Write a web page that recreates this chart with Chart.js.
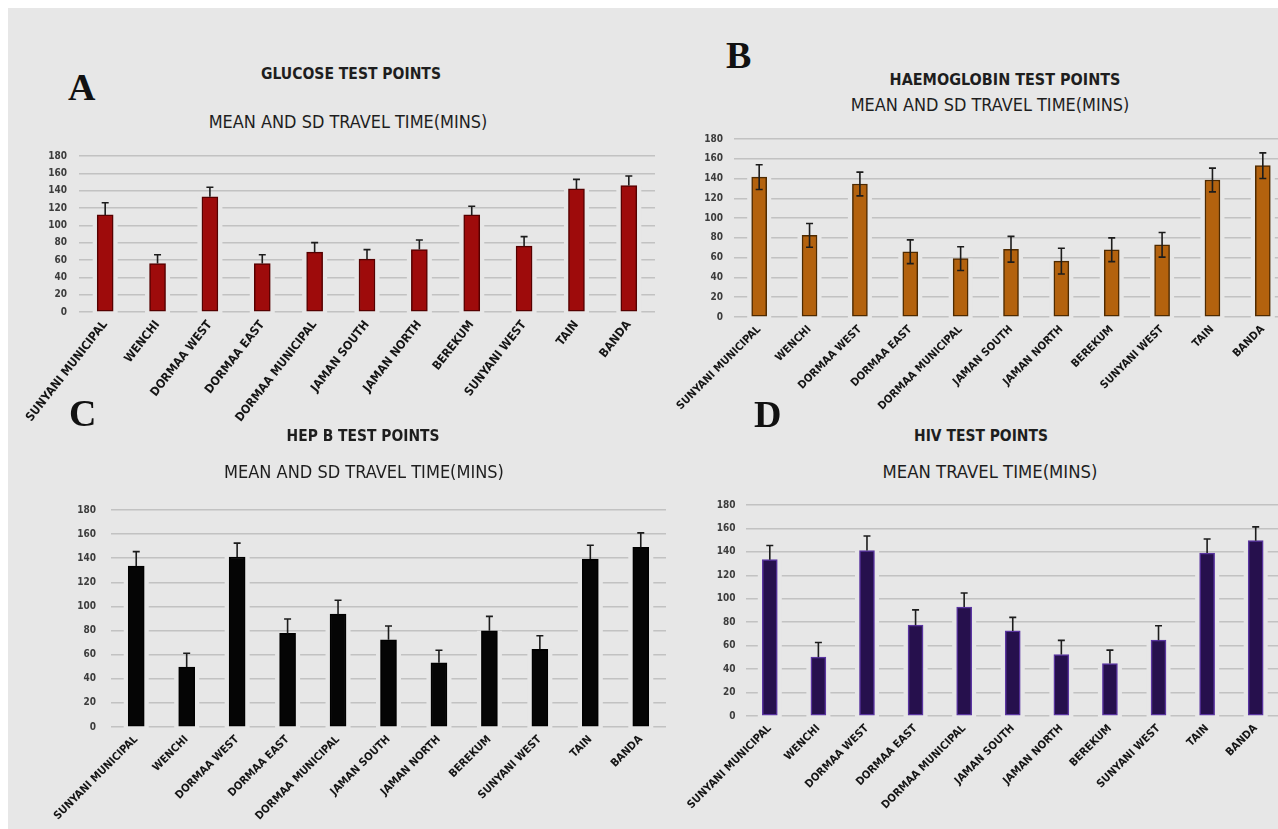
<!DOCTYPE html>
<html>
<head>
<meta charset="utf-8">
<script src="https://cdn.jsdelivr.net/npm/chart.js@4.4.1/dist/chart.umd.min.js"></script>
<style>
  body { margin: 0; width: 1278px; height: 829px; overflow: hidden; background: #fff; position: relative; }
  #bg { position: absolute; left: 8px; top: 8px; right: 0; bottom: 0; background: #e7e7e7; }
  canvas { position: absolute; }
  .txt { position: absolute; white-space: nowrap; line-height: 1; color: #1e1e1e;
         transform: translate(-50%, -50%);
         font-family: 'Liberation Sans Narrow', 'DejaVu Sans Condensed', 'Roboto Condensed', sans-serif; }
  .letter { position: absolute; line-height: 1; font-size: 38px; font-weight: bold; color: #111;
            font-family: 'Liberation Serif', 'DejaVu Serif', serif; }
</style>
</head>
<body>
<div id="bg"></div>
<script>
// districts on the x axis (same order in all four panels)
const districts = ['SUNYANI MUNICIPAL', 'WENCHI', 'DORMAA WEST', 'DORMAA EAST', 'DORMAA MUNICIPAL',
  'JAMAN SOUTH', 'JAMAN NORTH', 'BEREKUM', 'SUNYANI WEST', 'TAIN', 'BANDA'];

// travel time in minutes
const glucoseMean = [112, 56, 133, 56, 69, 61, 72, 112, 76, 142, 146];
const glucoseSd   = [14, 10, 11, 10, 11, 11, 11, 10, 11, 11, 11];

const hbMean = [141.5, 82.5, 134.5, 66, 59, 68.5, 56.5, 68, 73, 138.5, 153];
const hbSd   = [12.5, 12, 12, 12, 12, 13, 13, 12, 12.5, 12, 13];

const hepbMean = [133.5, 49.7, 141, 77.6, 93.6, 72.3, 53.2, 79.8, 64.5, 139.3, 149];
const hepbSd   = [12, 11.5, 11.5, 12, 11.5, 11.5, 10.5, 12, 11.2, 11.5, 12];

const hivMean = [133.4, 50.2, 141.2, 77.5, 92.9, 72.6, 52.5, 44.7, 64.7, 139, 149.6];
const hivSd   = [12, 12.5, 12.3, 13, 12, 11.5, 12, 11.5, 12.3, 12, 11.7];

const yMin = 0, yMax = 180, yStep = 20;

const labelFont = "'Liberation Sans Narrow', 'DejaVu Sans Condensed', 'Roboto Condensed', sans-serif";
const bgColor = '#e7e7e7';

// error bars drawn from the mean and sd arrays through the y scale
const errorBars = {
  id: 'errorBars',
  afterDatasetsDraw(chart, args, opts) {
    const ctx = chart.ctx;
    const y = chart.scales.y;
    const meta = chart.getDatasetMeta(0);
    ctx.save();
    ctx.strokeStyle = opts.color;
    ctx.lineWidth = 1.6;
    meta.data.forEach(function(bar, i) {
      const m = opts.mean[i], s = opts.sd[i];
      const top = y.getPixelForValue(m + s);
      const bot = opts.lower ? y.getPixelForValue(m - s) : y.getPixelForValue(m);
      ctx.beginPath();
      ctx.moveTo(bar.x, top); ctx.lineTo(bar.x, bot);
      ctx.moveTo(bar.x - 3.5, top); ctx.lineTo(bar.x + 3.5, top);
      if (opts.lower) { ctx.moveTo(bar.x - 3.5, bot); ctx.lineTo(bar.x + 3.5, bot); }
      ctx.stroke();
    });
    ctx.restore();
  }
};

// little breaks in the gridlines beside each bar
const gridGaps = {
  id: 'gridGaps',
  beforeDatasetsDraw(chart) {
    const ctx = chart.ctx;
    const meta = chart.getDatasetMeta(0);
    ctx.save();
    ctx.fillStyle = bgColor;
    meta.data.forEach(function(bar) {
      const w = bar.width + 9;
      ctx.fillRect(bar.x - w / 2, bar.y, w, bar.base - bar.y + 2);
    });
    ctx.restore();
  }
};

const panels = [
  { letter: 'A', lx: 68, lb: 100,
    title: 'GLUCOSE TEST POINTS', tx: 351, ty: 75, tw: 180,
    sub: 'MEAN AND SD TRAVEL TIME(MINS)', sx: 348, sy: 122, sw: 279,
    mean: glucoseMean, sd: glucoseSd, lower: false,
    fill: '#9e0b0b', border: '#560000', bar: 16, rot: 52, xFont: 12,
    cv: { x: 0, y: 138, w: 662, h: 312 }, plot: { l: 79, r: 655, t: 150, b: 312 }, yPad: 12 },
  { letter: 'B', lx: 726, lb: 68,
    title: 'HAEMOGLOBIN TEST POINTS', tx: 1005, ty: 80, tw: 231,
    sub: 'MEAN AND SD TRAVEL TIME(MINS)', sx: 990, sy: 105, sw: 279,
    mean: hbMean, sd: hbSd, lower: true,
    fill: '#b3620e', border: '#4e2a00', bar: 15, rot: 45, xFont: 11,
    cv: { x: 660, y: 122, w: 635, h: 300 }, plot: { l: 734, r: 1288, t: 134, b: 317 }, yPad: 11 },
  { letter: 'C', lx: 69, lb: 426,
    title: 'HEP B TEST POINTS', tx: 363, ty: 437, tw: 153,
    sub: 'MEAN AND SD TRAVEL TIME(MINS)', sx: 364, sy: 472, sw: 280,
    mean: hepbMean, sd: hepbSd, lower: false,
    fill: '#050505', border: '#000000', bar: 16, rot: 45, xFont: 11,
    cv: { x: 20, y: 489, w: 653, h: 340 }, plot: { l: 111, r: 666, t: 501.5, b: 727 }, yPad: 15 },
  { letter: 'D', lx: 754, lb: 427,
    title: 'HIV TEST POINTS', tx: 981, ty: 437, tw: 134,
    sub: 'MEAN TRAVEL TIME(MINS)', sx: 990, sy: 472, sw: 215,
    mean: hivMean, sd: hivSd, lower: false,
    fill: '#26104d', border: '#5a35a0', bar: 15, rot: 45, xFont: 11,
    cv: { x: 672, y: 489, w: 615, h: 340 }, plot: { l: 745.5, r: 1280, t: 501, b: 716 }, yPad: 10 }
];

function placeText(text, cx, cy, width, bold) {
  const el = document.createElement('div');
  el.className = 'txt';
  el.textContent = text;
  el.style.fontWeight = bold ? 'bold' : 'normal';
  el.style.fontSize = '16px';
  document.body.appendChild(el);
  const w = el.getBoundingClientRect().width;
  el.style.fontSize = (16 * width / w) + 'px';
  el.style.left = cx + 'px';
  el.style.top = cy + 'px';
}

panels.forEach(function(p) {
  const L = document.createElement('div');
  L.className = 'letter';
  L.textContent = p.letter;
  L.style.left = p.lx + 'px';
  L.style.top = (p.lb - 32) + 'px';
  document.body.appendChild(L);

  placeText(p.title, p.tx, p.ty, p.tw, true);
  placeText(p.sub, p.sx, p.sy, p.sw, false);

  const canvas = document.createElement('canvas');
  canvas.width = p.cv.w; canvas.height = p.cv.h;
  canvas.style.left = p.cv.x + 'px'; canvas.style.top = p.cv.y + 'px';
  document.body.appendChild(canvas);

  const yW = p.plot.l - p.cv.x;
  const xH = p.cv.y + p.cv.h - p.plot.b;

  new Chart(canvas.getContext('2d'), {
    type: 'bar',
    data: {
      labels: districts,
      datasets: [{
        data: p.mean,
        backgroundColor: p.fill,
        borderColor: p.border,
        borderWidth: 1.5,
        borderSkipped: false,
        barThickness: p.bar
      }]
    },
    options: {
      responsive: false,
      animation: false,
      layout: { padding: { top: p.plot.t - p.cv.y, right: p.cv.x + p.cv.w - p.plot.r, left: 0, bottom: 0 } },
      plugins: {
        legend: { display: false },
        tooltip: { enabled: false },
        errorBars: { mean: p.mean, sd: p.sd, lower: p.lower, color: '#1c1c1c' }
      },
      scales: {
        x: {
          grid: { display: false, drawTicks: false },
          border: { display: false },
          ticks: {
            autoSkip: false, minRotation: p.rot, maxRotation: p.rot, padding: 6,
            color: '#151515', font: { family: labelFont, size: p.xFont, weight: 'bold' }
          },
          afterFit: function(scale) { scale.height = xH; }
        },
        y: {
          min: yMin, max: yMax,
          grid: { color: '#c2c2c2', lineWidth: 1.6, drawTicks: false },
          border: { display: false },
          ticks: {
            stepSize: yStep, padding: p.yPad,
            color: '#3c3c3c', font: { family: labelFont, size: 10, weight: 'bold' }
          },
          afterFit: function(scale) { scale.width = yW; }
        }
      }
    },
    plugins: [gridGaps, errorBars]
  });
});
</script>
</body>
</html>
